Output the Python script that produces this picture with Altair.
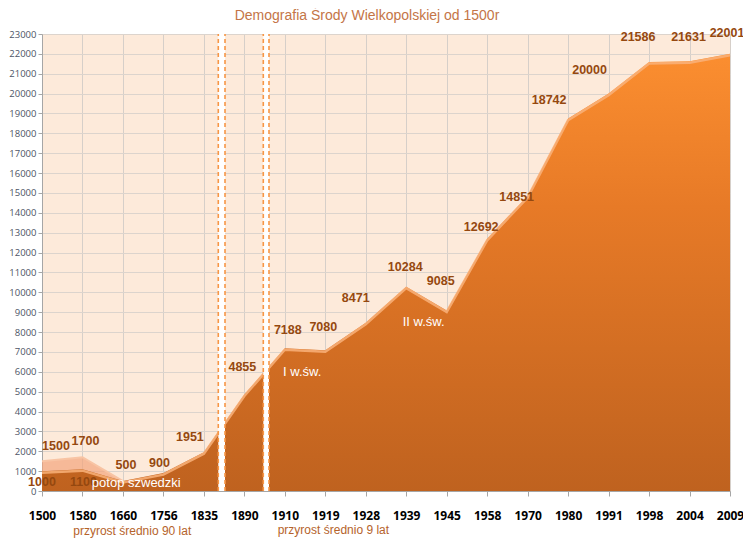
import altair as alt
import pandas as pd

# ---- data ----
YEARS = ["1500", "1580", "1660", "1756", "1835", "1890", "1910", "1919", "1928",
         "1939", "1945", "1958", "1970", "1980", "1991", "1998", "2004", "2009"]
POPULATION = [1000, 1100, 500, 900, 1951, 4855, 7188, 7080, 8471, 10284, 9085,
              12692, 14851, 18742, 20000, 21586, 21631, 22001]
# upper (lighter) series shown only for the earliest years
EARLY_YEARS = ["1500", "1580", "1660"]
EARLY_VALUES = [1500, 1700, 500]

# broken-axis gaps (in category-index units)
GAPS = [(4.356, 4.522), (5.468, 5.609)]

ANNOT_TEXT = ["potop szwedzki", "I w.św.", "II w.św."]
ANNOT_X = [2.33, 6.43, 9.43]
ANNOT_Y = [403, 5989, 8506]

NOTE_TEXT = ["przyrost średnio 90 lat", "przyrost średnio 9 lat"]
NOTE_X = [2.23, 7.20]
NOTE_Y = [-2013, -1963]

# label nudges in pixels (style)
MAIN_NUDGE = [(0, 11), (1, 13), (3, -16), (-4, -10), (-14, -15), (-2, -28), (3, -18),
              (-2, -23), (-10, -25), (-1, -20), (-6, -29), (-6, -12), (-11, 1),
              (-19, -19), (-19, -24), (-11, -25), (-1, -24), (-3, -21)]
EARLY_NUDGE = [(14, -15), (3, -16)]

W, H = 688, 457
YMAX = 23000
PX_PER_IDX = W / (len(YEARS) - 1)
UNITS_PER_PX = YMAX / H

NARROW = "Liberation Sans Narrow, Arial Narrow, Liberation Sans, sans-serif"

main = pd.DataFrame({"idx": list(range(len(YEARS))), "val": POPULATION})
early = pd.DataFrame({"idx": [YEARS.index(y) for y in EARLY_YEARS], "val": EARLY_VALUES})

lab_rows = []
for i, v in enumerate(POPULATION):
    dx, dy = MAIN_NUDGE[i]
    lab_rows.append({"idx": i + dx / PX_PER_IDX, "val": v - dy * UNITS_PER_PX, "txt": str(v)})
for j, v in enumerate(EARLY_VALUES[:2]):
    dx, dy = EARLY_NUDGE[j]
    i = YEARS.index(EARLY_YEARS[j])
    lab_rows.append({"idx": i + dx / PX_PER_IDX, "val": v - dy * UNITS_PER_PX, "txt": str(v)})
labels = pd.DataFrame(lab_rows)

gaps = pd.DataFrame({"idx": [g[0] for g in GAPS], "idx2": [g[1] for g in GAPS],
                     "val": [0] * len(GAPS), "val2": [YMAX] * len(GAPS)})
edges = pd.DataFrame({"idx": [e for g in GAPS for e in g],
                      "val": [0] * (2 * len(GAPS)), "val2": [YMAX] * (2 * len(GAPS))})
annots = pd.DataFrame({"idx": ANNOT_X, "val": ANNOT_Y, "txt": ANNOT_TEXT})
notes = pd.DataFrame({"idx": NOTE_X, "val": NOTE_Y, "txt": NOTE_TEXT})

label_expr = "[" + ",".join("'%s'" % y for y in YEARS) + "][datum.value]"

xscale = alt.Scale(domain=[0, len(YEARS) - 1], nice=False, zero=False)
yscale = alt.Scale(domain=[0, YMAX], nice=False)
xaxis = alt.Axis(values=list(range(len(YEARS))), labelExpr=label_expr, title=None,
                 labelFont="Open Sans", labelFontWeight="bold", labelFontSize=12,
                 labelColor="#000000", tickSize=5, tickColor="#A6A6A6",
                 domainColor="#A6A6A6", labelPadding=14, grid=True,
                 gridColor="#D6CFC9", labelFlush=False)
yaxis = alt.Axis(values=list(range(0, YMAX + 1, 1000)), title=None, labelFont="Open Sans",
                 labelFontSize=9.5, labelColor="#4D5566", tickSize=4, tickColor="#A6A6A6",
                 domainColor="#A6A6A6", labelPadding=2, grid=True, gridColor="#DCD4CD",
                 format="d")


def X(f="idx"):
    return alt.X(f + ":Q", scale=xscale, axis=xaxis)


def Y(f="val"):
    return alt.Y(f + ":Q", scale=yscale, axis=yaxis)


gradient = alt.Gradient(gradient="linear", x1=0, y1=0, x2=0, y2=1,
                        stops=[alt.GradientStop(color="#FB8E30", offset=0),
                               alt.GradientStop(color="#E77A27", offset=0.35),
                               alt.GradientStop(color="#BF621F", offset=1)])

early_area = alt.Chart(early).mark_area(color="#F2A47C", line={"color": "#F8C4A4", "strokeWidth": 2}).encode(x=X(), y=Y())
main_area = alt.Chart(main).mark_area(color=gradient).encode(x=X(), y=Y())
highlight = alt.Chart(main).mark_line(color="#F9B27A", strokeWidth=2.5, yOffset=1.5, opacity=0.85).encode(x=X(), y=Y())
gap_rect = alt.Chart(gaps).mark_rect(color="white").encode(x=X(), x2="idx2:Q", y=Y(), y2="val2:Q")
gap_edges = alt.Chart(edges).mark_rule(color="#F79646", strokeWidth=1.6, strokeDash=[4, 3]).encode(x=X(), y=Y(), y2="val2:Q")
data_labels = alt.Chart(labels).mark_text(font=NARROW, fontWeight="bold", fontSize=12.5,
                                          color="#95480F", baseline="middle").encode(x=X(), y=Y(), text="txt:N")
annot_text = alt.Chart(annots).mark_text(font=NARROW, fontSize=13, color="white",
                                         baseline="middle").encode(x=X(), y=Y(), text="txt:N")
note_text = alt.Chart(notes).mark_text(font=NARROW, fontSize=12, color="#B5632B",
                                       baseline="middle").encode(x=X(), y=Y(), text="txt:N")

chart = alt.layer(early_area, main_area, highlight, gap_rect, gap_edges, data_labels,
                  annot_text, note_text).properties(
    width=W, height=H,
    title=alt.TitleParams("Demografia Środy Wielkopolskiej od 1500r", font="Liberation Sans",
                          fontSize=14, fontWeight="normal", color="#C47547", anchor="middle",
                          dx=-19, offset=4),
    padding={"left": 34, "top": 26, "right": 13, "bottom": 52},
    autosize=alt.AutoSizeParams(type="none"),
).configure_view(fill="#FDEADA", stroke=None)

chart.save("out.html", embed_options={"renderer": "svg", "actions": False})
